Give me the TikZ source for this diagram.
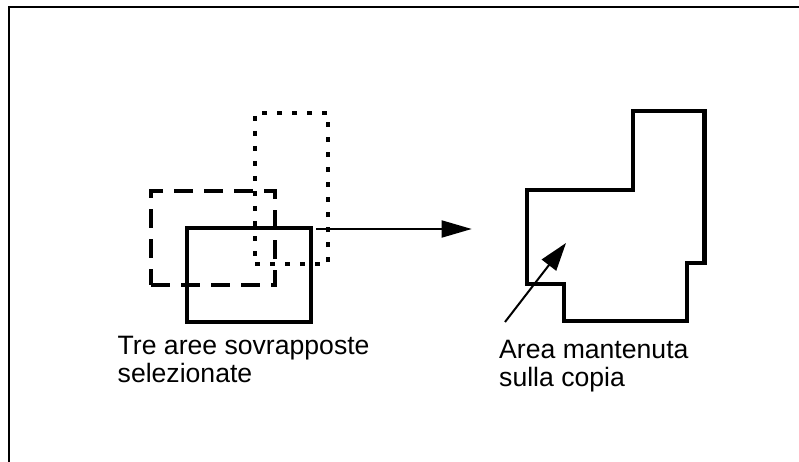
\documentclass[tikz,border=0pt]{standalone}
\usepackage{fontspec}
\setmainfont{Liberation Sans}
\usetikzlibrary{positioning,arrows.meta}
\tikzset{
  >={Triangle[length=30pt,width=17pt]},
  areabox/.style={draw=black,rectangle,inner sep=0pt,outer sep=0pt,
    anchor=north west},
  solidarea/.style={areabox,line width=3.6pt,minimum width=124pt,
    minimum height=94pt},
  dashedarea/.style={areabox,line width=4.6pt,dash pattern=on 19pt off 11pt,
    minimum width=124pt,minimum height=94pt},
  dottedarea/.style={areabox,line width=4.6pt,dash pattern=on 4.6pt off 10.4pt,
    minimum width=73pt,minimum height=151pt},
  keptarea/.style={line width=4.6pt,line join=miter},
  flow/.style={->,line width=1.8pt},
  pin/.style={-{Triangle[length=28pt,width=18pt]},line width=2pt},
  lbl/.style={font=\fontsize{26.6}{28}\selectfont,align=left,inner sep=0pt,
    anchor=base west},
}

\begin{document}
\begin{tikzpicture}[x=1pt,y=-1pt,
   frame/.style={line width=1.8pt}]
  \useasboundingbox (0,0) rectangle (799,462);
  \draw[frame] (9,462) -- (9,7) -- (799,7);
  % the three selected areas
  \node[dashedarea] (dsh) at (151,191) {};
  \node[dottedarea] (dot) at (255,113) {};
  \node[solidarea] (sol) at (187,228) {};
  \node[lbl] (seltext) at (117.5,382) {Tre aree sovrapposte\\selezionate};
  % area kept on the copy
  \draw[keptarea] (527,190) -- (633,190) -- (633,111) -- (704.5,111)
    -- (704.5,263) -- (687,263) -- (687,321) -- (564,321) -- (564,284)
    -- (527,284) -- cycle;
  \node[lbl] (kepttext) at (499,386.5) {Area mantenuta\\sulla copia};
  \coordinate (goal) at (471.7,229);
  \draw[flow] ([xshift=5pt,yshift=-1pt]sol.north east) -- (goal);
  \coordinate (pinfoot) at (505,322);
  \coordinate (pinhead) at (566,243);
  \draw[pin] (pinfoot) -- (pinhead);
\end{tikzpicture}
\end{document}
